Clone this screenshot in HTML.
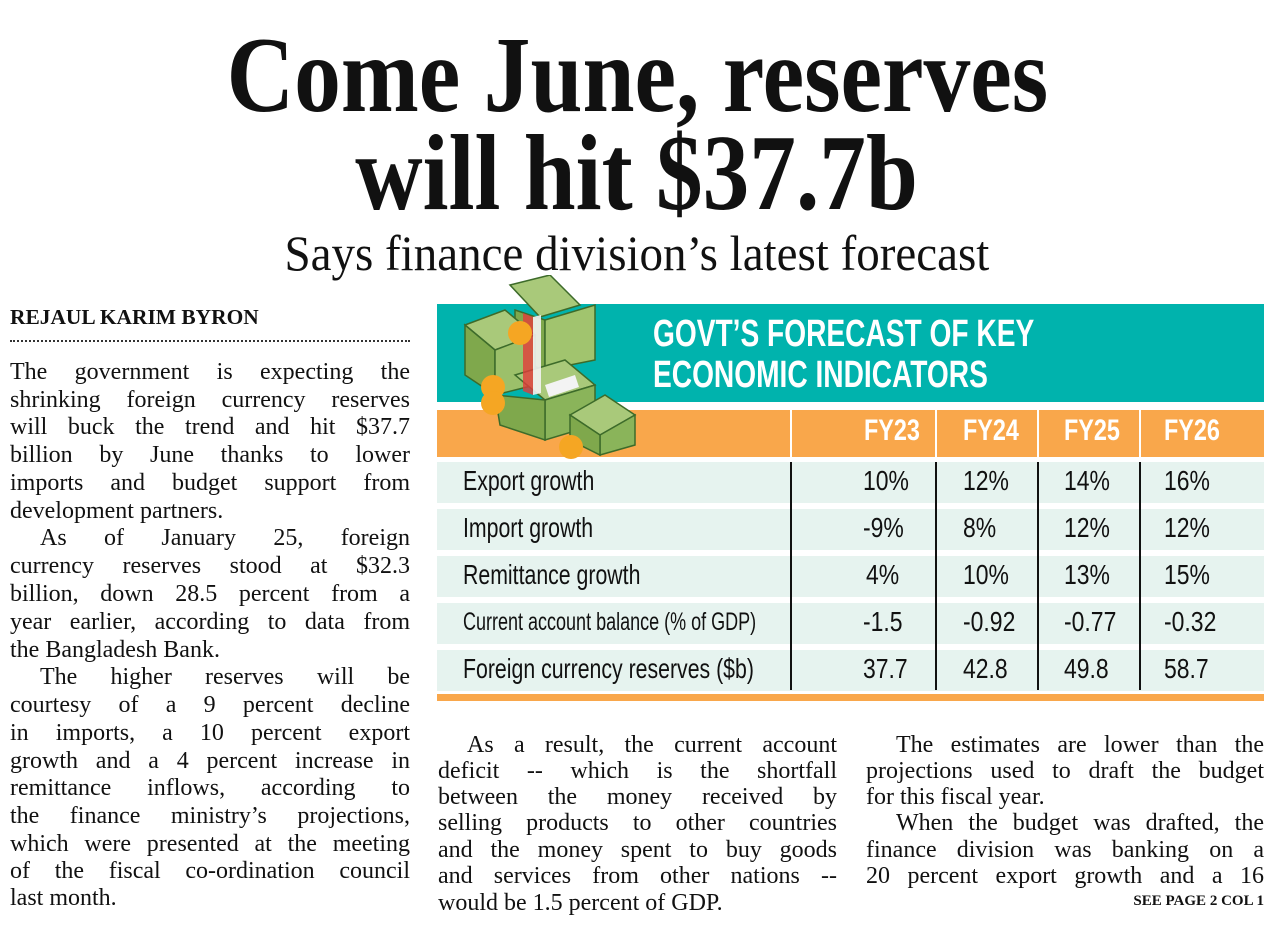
<!DOCTYPE html>
<html><head><meta charset="utf-8">
<style>
body{margin:0;width:1274px;height:930px;background:#fff;position:relative;overflow:hidden;font-family:"Liberation Serif",serif;color:#111}
.a{position:absolute;white-space:nowrap}
.h{left:0;width:1274px;text-align:center;font-family:"Liberation Serif",serif;line-height:1}
.h span{display:inline-block}
.ln{position:absolute;font-size:24px;line-height:28px;text-align:justify;text-align-last:justify;white-space:nowrap;overflow:visible}
.ln.l{text-align-last:left}
.band{position:absolute;left:437px;width:827px}
.row{position:absolute;left:437px;width:827px;height:41px;background:#e6f3ef}
.vl{position:absolute;width:1.5px;background:#111;top:462px;height:228px}
.wl{position:absolute;width:2px;background:#fff;top:410px;height:47px}
.lab{position:absolute;left:463px;font-family:"Liberation Sans",sans-serif;font-size:28px;transform:scaleX(0.76);transform-origin:left center;white-space:nowrap}
.v{position:absolute;font-family:"Liberation Sans",sans-serif;font-size:28px;transform:scaleX(0.82);transform-origin:left center;white-space:nowrap}
.fy{position:absolute;top:414px;font-family:"Liberation Sans",sans-serif;font-weight:bold;color:#fff;font-size:30px;transform:scaleX(0.78);transform-origin:left center}
</style></head><body>

<div class="a h" style="top:22px;font-size:108px;font-weight:bold"><span style="transform:scaleX(0.866)">Come June, reserves</span></div>
<div class="a h" style="top:120px;font-size:108px;font-weight:bold"><span style="transform:scaleX(0.864)">will hit $37.7b</span></div>
<div class="a h" style="top:228px;font-size:50px"><span style="transform:scaleX(0.94)">Says finance division’s latest forecast</span></div>

<div class="a" style="left:10px;top:305px;font-size:21px;font-weight:bold;transform:scaleX(1.02);transform-origin:left">REJAUL KARIM BYRON</div>
<div class="a" style="left:10px;top:340px;width:400px;border-top:2px dotted #333"></div>

<div class="ln" style="left:10px;top:358px;width:400px">The government is expecting the</div>
<div class="ln" style="left:10px;top:386px;width:400px">shrinking foreign currency reserves</div>
<div class="ln" style="left:10px;top:413px;width:400px">will buck the trend and hit $37.7</div>
<div class="ln" style="left:10px;top:441px;width:400px">billion by June thanks to lower</div>
<div class="ln" style="left:10px;top:469px;width:400px">imports and budget support from</div>
<div class="ln l" style="left:10px;top:497px;width:400px">development partners.</div>
<div class="ln" style="left:40px;top:524px;width:370px">As of January 25, foreign</div>
<div class="ln" style="left:10px;top:552px;width:400px">currency reserves stood at $32.3</div>
<div class="ln" style="left:10px;top:580px;width:400px">billion, down 28.5 percent from a</div>
<div class="ln" style="left:10px;top:608px;width:400px">year earlier, according to data from</div>
<div class="ln l" style="left:10px;top:636px;width:400px">the Bangladesh Bank.</div>
<div class="ln" style="left:40px;top:663px;width:370px">The higher reserves will be</div>
<div class="ln" style="left:10px;top:691px;width:400px">courtesy of a 9 percent decline</div>
<div class="ln" style="left:10px;top:719px;width:400px">in imports, a 10 percent export</div>
<div class="ln" style="left:10px;top:747px;width:400px">growth and a 4 percent increase in</div>
<div class="ln" style="left:10px;top:774px;width:400px">remittance inflows, according to</div>
<div class="ln" style="left:10px;top:802px;width:400px">the finance ministry’s projections,</div>
<div class="ln" style="left:10px;top:830px;width:400px">which were presented at the meeting</div>
<div class="ln" style="left:10px;top:857px;width:400px">of the fiscal co-ordination council</div>
<div class="ln l" style="left:10px;top:884px;width:400px">last month.</div>

<div class="ln" style="left:467px;top:731px;width:370px">As a result, the current account</div>
<div class="ln" style="left:438px;top:757px;width:399px">deficit -- which is the shortfall</div>
<div class="ln" style="left:438px;top:783px;width:399px">between the money received by</div>
<div class="ln" style="left:438px;top:809px;width:399px">selling products to other countries</div>
<div class="ln" style="left:438px;top:836px;width:399px">and the money spent to buy goods</div>
<div class="ln" style="left:438px;top:862px;width:399px">and services from other nations --</div>
<div class="ln l" style="left:438px;top:889px;width:399px">would be 1.5 percent of GDP.</div>

<div class="ln" style="left:896px;top:731px;width:368px">The estimates are lower than the</div>
<div class="ln" style="left:866px;top:757px;width:398px">projections used to draft the budget</div>
<div class="ln l" style="left:866px;top:783px;width:398px">for this fiscal year.</div>
<div class="ln" style="left:896px;top:809px;width:368px">When the budget was drafted, the</div>
<div class="ln" style="left:866px;top:836px;width:398px">finance division was banking on a</div>
<div class="ln" style="left:866px;top:862px;width:398px">20 percent export growth and a 16</div>
<div class="a" style="right:10px;top:893px;font-size:15px;font-weight:bold">SEE PAGE 2 COL 1</div>

<div class="band" style="top:304px;height:98px;background:#00b3ad"></div>
<div class="a" style="left:653px;top:314px;color:#fff;font-family:'Liberation Sans',sans-serif;font-weight:bold;font-size:38px;line-height:41px;transform:scaleX(0.74);transform-origin:left top">GOVT’S FORECAST OF KEY<br>ECONOMIC INDICATORS</div>
<div class="band" style="top:410px;height:47px;background:#f9a74b"></div>
<div class="wl" style="left:790px"></div><div class="wl" style="left:935px"></div><div class="wl" style="left:1037px"></div><div class="wl" style="left:1139px"></div>
<div class="fy" style="left:864px">FY23</div><div class="fy" style="left:963px">FY24</div><div class="fy" style="left:1064px">FY25</div><div class="fy" style="left:1164px">FY26</div>

<div class="row" style="top:462px"></div>
<div class="row" style="top:509px"></div>
<div class="row" style="top:556px"></div>
<div class="row" style="top:603px"></div>
<div class="row" style="top:650px"></div>
<div class="vl" style="left:790px"></div><div class="vl" style="left:935px"></div><div class="vl" style="left:1037px"></div><div class="vl" style="left:1139px"></div>

<div class="lab" style="top:465px">Export growth</div>
<div class="lab" style="top:512px">Import growth</div>
<div class="lab" style="top:559px">Remittance growth</div>
<div class="lab" style="top:608px;font-size:25px;transform:scaleX(0.72)">Current account balance (% of GDP)</div>
<div class="lab" style="top:653px">Foreign currency reserves ($b)</div>

<div class="v" style="left:863px;top:465px">10%</div><div class="v" style="left:963px;top:465px">12%</div><div class="v" style="left:1064px;top:465px">14%</div><div class="v" style="left:1164px;top:465px">16%</div>
<div class="v" style="left:863px;top:512px">-9%</div><div class="v" style="left:963px;top:512px">8%</div><div class="v" style="left:1064px;top:512px">12%</div><div class="v" style="left:1164px;top:512px">12%</div>
<div class="v" style="left:866px;top:559px">4%</div><div class="v" style="left:963px;top:559px">10%</div><div class="v" style="left:1064px;top:559px">13%</div><div class="v" style="left:1164px;top:559px">15%</div>
<div class="v" style="left:863px;top:606px">-1.5</div><div class="v" style="left:963px;top:606px">-0.92</div><div class="v" style="left:1064px;top:606px">-0.77</div><div class="v" style="left:1164px;top:606px">-0.32</div>
<div class="v" style="left:863px;top:653px">37.7</div><div class="v" style="left:963px;top:653px">42.8</div><div class="v" style="left:1064px;top:653px">49.8</div><div class="v" style="left:1164px;top:653px">58.7</div>

<div class="band" style="top:694px;height:7px;background:#f9a74b"></div>

<svg style="position:absolute;left:455px;top:275px" width="190" height="190" viewBox="0 0 190 190">
<g stroke="#3d6b2a" stroke-width="1.5">
<polygon points="55,10 95,0 125,30 85,42" fill="#a9c97a"/>
<polygon points="60,35 90,45 90,95 60,85" fill="#7fa84c"/>
<polygon points="90,45 140,30 140,85 90,95" fill="#a1c46e"/>
<polygon points="10,50 50,35 80,60 40,75" fill="#a9c97a"/>
<polygon points="10,50 40,75 40,120 10,100" fill="#7fa84c"/>
<polygon points="40,75 80,60 80,110 40,120" fill="#9cc06a"/>
<polygon points="60,100 110,85 140,110 90,125" fill="#a9c97a"/>
<polygon points="90,125 140,110 140,150 90,165" fill="#8ab45a"/>
<polygon points="40,120 90,125 90,165 45,150" fill="#7fa84c"/>
<polygon points="115,140 150,120 180,140 145,160" fill="#a9c97a"/>
<polygon points="145,160 180,140 180,170 145,180" fill="#8ab45a"/>
<polygon points="115,140 145,160 145,180 115,165" fill="#7fa84c"/>
</g>
<polygon points="68,38 78,42 78,120 68,116" fill="#e23b3b" opacity="0.8"/>
<polygon points="78,42 86,40 86,118 78,120" fill="#f3f3f3" opacity="0.9"/>
<polygon points="90,110 120,100 124,112 94,122" fill="#f3f3f3"/>
<circle cx="65" cy="58" r="12" fill="#f5a623"/>
<circle cx="38" cy="112" r="12" fill="#f5a623"/>
<circle cx="38" cy="128" r="12" fill="#f5a623"/>
<circle cx="116" cy="172" r="12" fill="#f5a623"/>
</svg>
</body></html>
